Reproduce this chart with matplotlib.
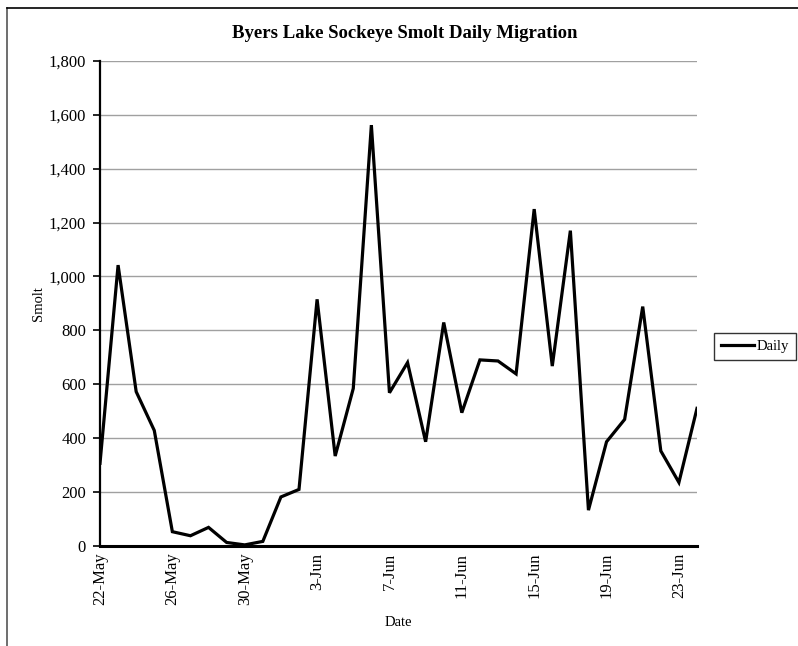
import matplotlib
matplotlib.use("Agg")
import matplotlib.pyplot as plt
from matplotlib.lines import Line2D

plt.rcParams['font.family'] = ['Liberation Serif', 'DejaVu Serif']

# Daily smolt counts, 22-May through 24-Jun
dates = ["22-May", "23-May", "24-May", "25-May", "26-May", "27-May", "28-May",
         "29-May", "30-May", "31-May", "1-Jun", "2-Jun", "3-Jun", "4-Jun",
         "5-Jun", "6-Jun", "7-Jun", "8-Jun", "9-Jun", "10-Jun", "11-Jun",
         "12-Jun", "13-Jun", "14-Jun", "15-Jun", "16-Jun", "17-Jun", "18-Jun",
         "19-Jun", "20-Jun", "21-Jun", "22-Jun", "23-Jun", "24-Jun"]
daily = [306, 1042, 572, 428, 52, 37, 68, 12, 3, 16, 181, 209, 915, 333,
         584, 1562, 568, 680, 386, 829, 494, 690, 686, 638, 1250, 667,
         1170, 132, 386, 469, 888, 352, 235, 510]
yticks = [0, 200, 400, 600, 800, 1000, 1200, 1400, 1600, 1800]

W, H = 798, 646
fig = plt.figure(figsize=(W / 100, H / 100), dpi=100)

# chart-area frame (left and top edges)
fig.add_artist(Line2D([7 / W, 7 / W], [0, 1 - 8 / H], transform=fig.transFigure,
                      color='#555555', lw=1.2))
fig.add_artist(Line2D([7 / W, 1], [1 - 8 / H, 1 - 8 / H], transform=fig.transFigure,
                      color='black', lw=1.2))

left, right, top, bottom = 100, 697, 61, 545.7
ax = fig.add_axes([left / W, 1 - bottom / H, (right - left) / W, (bottom - top) / H])

x = list(range(len(dates)))
line, = ax.plot(x, daily, color='black', lw=2.3, solid_joinstyle='miter', label='Daily')

ax.set_xlim(0, len(dates) - 1)
ax.set_ylim(0, 1800)
ax.set_yticks(yticks)
ax.set_yticklabels([f"{v:,}" for v in yticks])
ax.yaxis.grid(True, color='#a0a0a0', lw=1.0)
ax.set_axisbelow(True)

tick_idx = x[::4]
ax.set_xticks(tick_idx)
ax.set_xticklabels([dates[i] for i in tick_idx], rotation=90)
ax.tick_params(axis='x', length=0, pad=5, labelsize=12)
ax.tick_params(axis='y', length=5, width=1.2, direction='out', pad=5, labelsize=12)

for side in ('top', 'right'):
    ax.spines[side].set_visible(False)
ax.spines['left'].set_linewidth(1.6)
ax.spines['bottom'].set_linewidth(2.2)

ax.set_ylabel('Smolt', fontsize=10.5)
ax.yaxis.set_label_coords(-0.092, 0.5)
ax.set_xlabel('Date', fontsize=10.5)
ax.xaxis.set_label_coords(0.5, -0.145)

fig.text(405 / W, 1 - 33 / H, 'Byers Lake Sockeye Smolt Daily Migration',
         ha='center', va='center', fontsize=13.5, fontweight='bold')

leg = fig.legend(handles=[line], loc='center left',
                 bbox_to_anchor=(714 / W, 1 - 346.5 / H), frameon=True,
                 fancybox=False, edgecolor='black', fontsize=10.5,
                 handlelength=2.3, handletextpad=0.2, borderpad=0.45,
                 borderaxespad=0)
leg.get_frame().set_linewidth(1.0)

fig.savefig('out.png', dpi=100)
